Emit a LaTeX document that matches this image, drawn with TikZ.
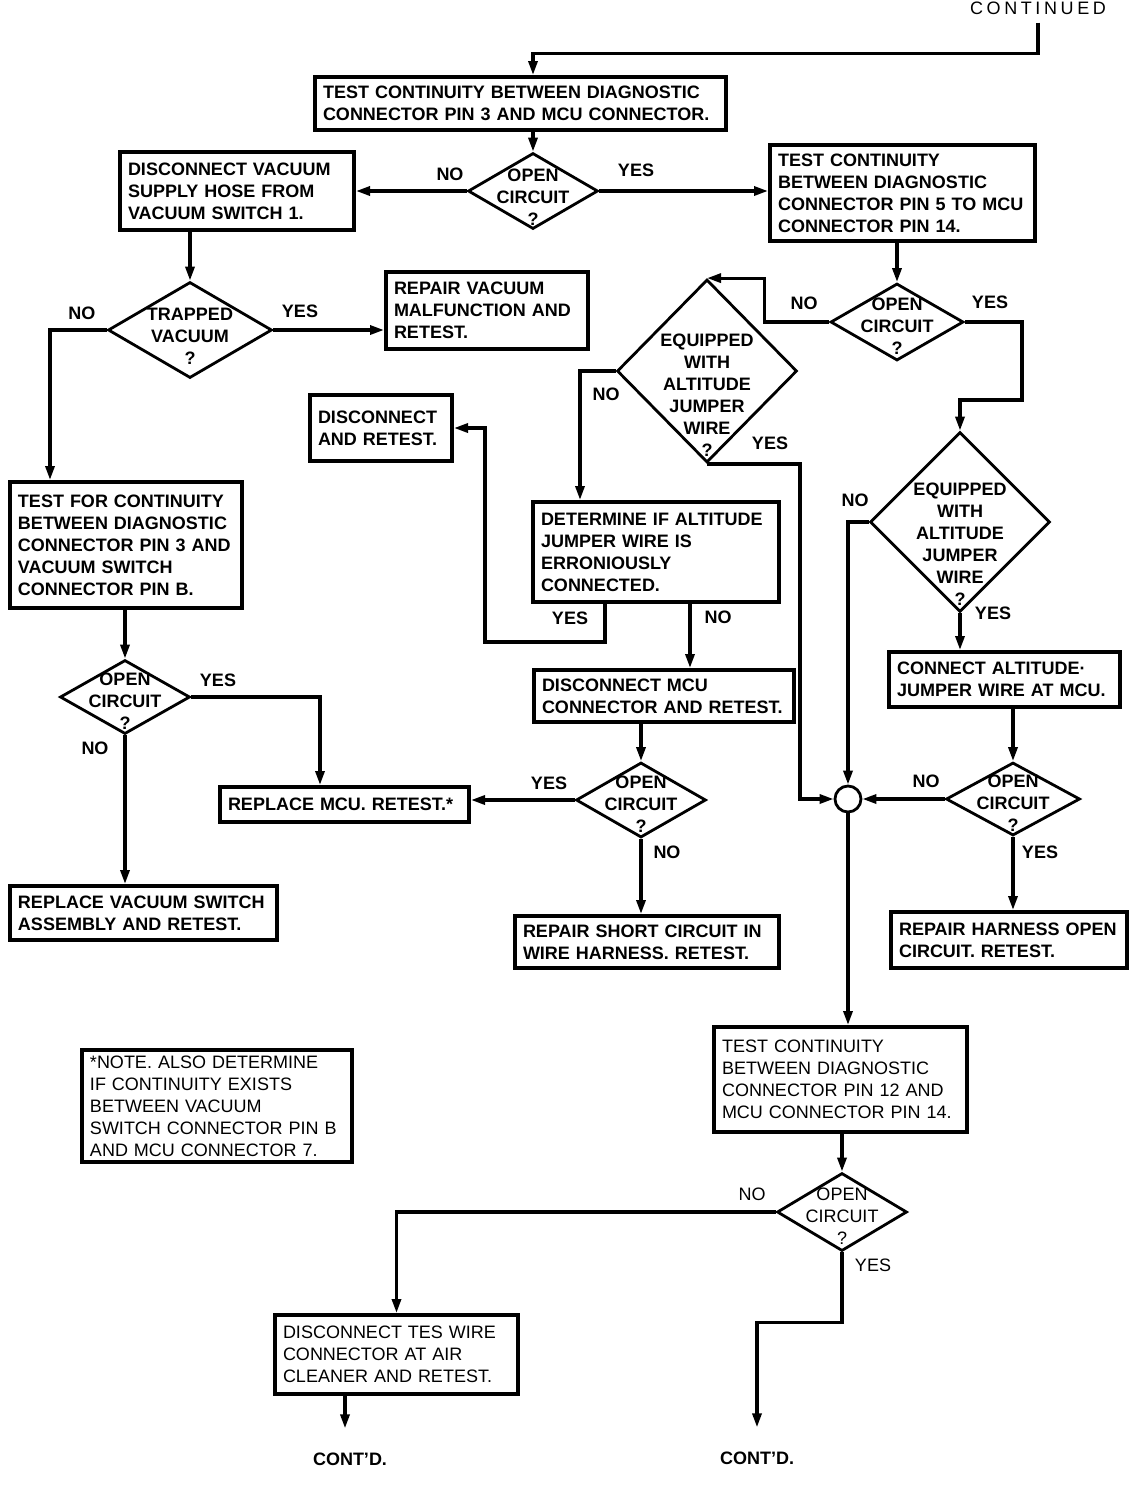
\documentclass[tikz,border=0pt]{standalone}
\usepackage{fontspec}
\setmainfont{Liberation Sans}
\usetikzlibrary{shapes.geometric,arrows.meta}

\begin{document}
\begin{tikzpicture}[
            x=0.5pt, y=-0.5pt,
            font=\fontsize{9}{11}\selectfont\bfseries,
            line width=1.6pt,
            ->, >={Triangle[length=7pt,width=4.5pt]},
            box/.style={draw, line width=2pt, anchor=north west, align=left,
                        inner xsep=4pt, inner ysep=0pt, text width=#1},
            light/.style={font=\fontsize{9}{11}\selectfont},
            decision/.style={diamond, draw, line width=1.4pt, inner sep=0pt},
            qtext/.style={align=center, inner sep=0pt},
            ans/.style={inner sep=1pt}
            ]
        \useasboundingbox (0,0) rectangle (1136,1512);

        % boxes
        \node[light, font=\fontsize{9}{11}\selectfont\addfontfeatures{LetterSpace=20}] (cont) at (1038,8) {CONTINUED};
        \node[box=197.5pt, minimum height=26.5pt] (testa) at (313,75) {TEST CONTINUITY BETWEEN DIAGNOSTIC\\CONNECTOR PIN 3 AND MCU CONNECTOR.};
        \node[box=109pt, minimum height=39pt] (discvac) at (118,150) {DISCONNECT VACUUM\\SUPPLY HOSE FROM\\VACUUM SWITCH 1.};
        \node[box=124.5pt, minimum height=48pt] (testc) at (768,143) {TEST CONTINUITY\\BETWEEN DIAGNOSTIC\\CONNECTOR PIN 5 TO MCU\\CONNECTOR PIN 14.};
        \node[box=93pt, minimum height=38.5pt] (repvac) at (384,270) {REPAIR VACUUM\\MALFUNCTION AND\\RETEST.};
        \node[box=108pt, minimum height=63pt] (testb) at (8,480) {TEST FOR CONTINUITY\\BETWEEN DIAGNOSTIC\\CONNECTOR PIN 3 AND\\VACUUM SWITCH\\CONNECTOR PIN B.};
        \node[box=63pt, minimum height=33pt] (discret) at (308,393) {DISCONNECT\\AND RETEST.};
        \node[box=115pt, minimum height=50pt] (determ) at (531,500) {DETERMINE IF ALTITUDE\\JUMPER WIRE IS\\ERRONIOUSLY\\CONNECTED.};
        \node[box=122pt, minimum height=26pt] (discmcu) at (532,668) {DISCONNECT MCU\\CONNECTOR AND RETEST.};
        \node[box=116.5pt, minimum height=17.5pt] (repmcu) at (218,785) {REPLACE MCU. RETEST.*};
        \node[box=125.5pt, minimum height=27pt] (repsw) at (8,884) {REPLACE VACUUM SWITCH\\ASSEMBLY AND RETEST.};
        \node[box=124pt, minimum height=26pt] (repshort) at (513,914) {REPAIR SHORT CIRCUIT IN\\WIRE HARNESS. RETEST.};
        \node[box=107.5pt, minimum height=27.5pt] (connalt) at (887,650) {CONNECT ALTITUDE·\\JUMPER WIRE AT MCU.};
        \node[box=110pt, minimum height=28pt] (repharn) at (889,910) {REPAIR HARNESS OPEN\\CIRCUIT. RETEST.};
        \node[box=118.5pt, minimum height=52.5pt, light] (testd) at (712,1025) {TEST CONTINUITY\\BETWEEN DIAGNOSTIC\\CONNECTOR PIN 12 AND\\MCU CONNECTOR PIN 14.};
        \node[box=113.5pt, minimum height=39.5pt, light] (disctes) at (273,1313) {DISCONNECT TES WIRE\\CONNECTOR AT AIR\\CLEANER AND RETEST.};
        \node[box=127pt, minimum height=56pt, light] (note) at (80,1048) {*NOTE. ALSO DETERMINE\\IF CONTINUITY EXISTS\\BETWEEN VACUUM\\SWITCH CONNECTOR PIN B\\AND MCU CONNECTOR 7.};
        \node (contl) at (350,1459) {CONT'D.};
        \node (contr) at (757,1458) {CONT'D.};

        % decisions
        \node[decision, minimum width=65pt, minimum height=38pt, label={[qtext, name=open1t, yshift=-3pt]center:OPEN\\CIRCUIT\\?}] (open1) at (533,191) {};
        \node[decision, minimum width=82pt, minimum height=48pt, label={[qtext, name=trappedt, yshift=-3pt]center:TRAPPED\\VACUUM\\?}] (trapped) at (190,330) {};
        \node[decision, minimum width=65pt, minimum height=37pt, label={[qtext, name=open2t, yshift=-2pt]center:OPEN\\CIRCUIT\\?}] (open2) at (125,697) {};
        \node[decision, minimum width=90pt, minimum height=91.5pt, label={[qtext, name=equip1t, yshift=-12pt]center:EQUIPPED\\WITH\\ALTITUDE\\JUMPER\\WIRE\\?}] (equip1) at (707,371) {};
        \node[decision, minimum width=66.5pt, minimum height=38.5pt, label={[qtext, name=open3t, yshift=-2pt]center:OPEN\\CIRCUIT\\?}] (open3) at (897,322) {};
        \node[decision, minimum width=90pt, minimum height=90pt, label={[qtext, name=equip2t, yshift=-11pt]center:EQUIPPED\\WITH\\ALTITUDE\\JUMPER\\WIRE\\?}] (equip2) at (960,522) {};
        \node[decision, minimum width=65pt, minimum height=37.5pt, label={[qtext, name=open4t, yshift=-2pt]center:OPEN\\CIRCUIT\\?}] (open4) at (641,800) {};
        \node[decision, minimum width=67pt, minimum height=36.5pt, label={[qtext, name=open5t, yshift=-2pt]center:OPEN\\CIRCUIT\\?}] (open5) at (1013,799) {};
        \node[decision, minimum width=65pt, minimum height=39pt, label={[qtext, light, name=open6t, yshift=-2pt]center:OPEN\\CIRCUIT\\?}] (open6) at (842,1212) {};
        \node[circle, draw, line width=1.4pt, minimum size=13pt, inner sep=0pt] (join) at (848,799) {};

        % answers
        \node[ans] (no1) at (450,174) {NO};
        \node[ans] (yes1) at (636,170) {YES};
        \node[ans] (no2) at (82,313) {NO};
        \node[ans] (yes2) at (300,311) {YES};
        \node[ans] (yes3) at (218,680) {YES};
        \node[ans] (no3) at (95,748) {NO};
        \node[ans] (no5) at (804,303) {NO};
        \node[ans] (yes5) at (990,302) {YES};
        \node[ans] (no4) at (606,394) {NO};
        \node[ans] (yes4) at (770,443) {YES};
        \node[ans] (yesda) at (570,618) {YES};
        \node[ans] (noda) at (718,617) {NO};
        \node[ans] (yes7) at (549,783) {YES};
        \node[ans] (no7) at (667,852) {NO};
        \node[ans] (no6) at (855,500) {NO};
        \node[ans] (yes6) at (993,613) {YES};
        \node[ans] (no8) at (926,781) {NO};
        \node[ans] (yes8) at (1040,852) {YES};
        \node[ans, light] (no9) at (752,1194) {NO};
        \node[ans, light] (yes9) at (873,1265) {YES};

        % connectors
        \draw (cont.south) -- ++(0,31) -| (open1.north |- testa.north);
        \draw (testa.south -| open1.north) -- (open1.north);
        \draw (open1.west) -- (discvac.east |- open1.west);
        \draw (open1.east) -- (testc.west |- open1.east);
        \draw (discvac.south -| trapped.north) -- (trapped.north);
        \draw (trapped.east) -- (repvac.west |- trapped.east);
        \draw (trapped.west) -| ([xshift=21pt]testb.north west);
        \draw (testb.south -| open2.north) -- (open2.north);
        \draw (open2.east) -| ([xshift=51pt]repmcu.north west);
        \draw (open2.south) -- (open2.south |- repsw.north);
        \draw (testc.south -| open3.north) -- (open3.north);
        \draw (open3.west) -- ++(-65,0) |- (equip1.north);
        \draw (open3.east) -- ++(57,0) -- ++(0,78) -| (equip2.north);
        \draw (equip1.west) -| ([xshift=24.5pt]determ.north west);
        \draw (equip1.south) -- ++(93,0) |- (join.west);
        \draw ([xshift=37pt]determ.south west) -- ++(0,38) -- ++(-120,0) |- (discret.east);
        \draw ([xshift=79.5pt]determ.south west) coordinate (dno) -- (dno |- discmcu.north);
        \draw (discmcu.south -| open4.north) -- (open4.north);
        \draw (open4.west) -- (repmcu.east |- open4.west);
        \draw (open4.south) -- (open4.south |- repshort.north);
        \draw (equip2.west) -| (join.north);
        \draw (equip2.south) -- (equip2.south |- connalt.north);
        \draw (connalt.south -| open5.north) -- (open5.north);
        \draw (open5.west) -- (join.east);
        \draw (open5.south) -- (open5.south |- repharn.north);
        \draw (join.south) -- (join.south |- testd.north);
        \draw (testd.south -| open6.north) -- (open6.north);
        \draw (open6.west) -| (disctes.north);
        \draw[shorten >=8pt] (open6.south) -- ++(0,70) -| (contr.north);
        \draw[shorten >=8pt] ([xshift=36pt]disctes.south west) coordinate (dtes) -- (dtes |- contl.north);
        \end{tikzpicture}
\end{document}
